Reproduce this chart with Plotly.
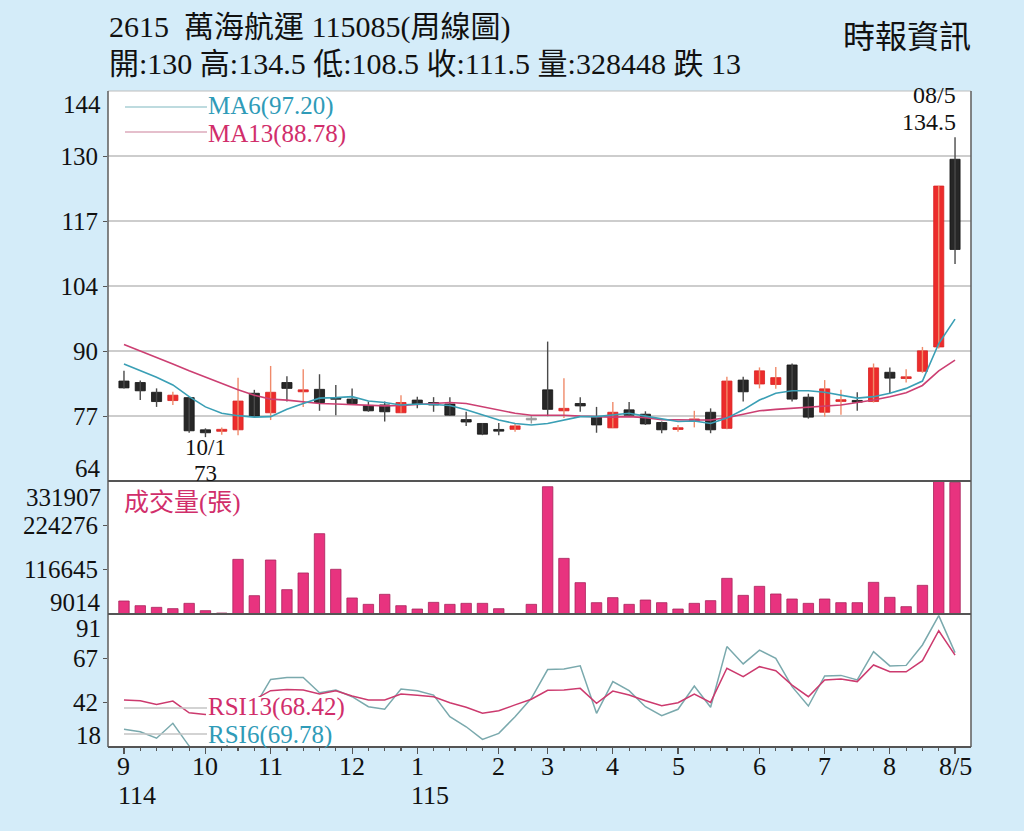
import plotly.graph_objects as go

# ---------------- data ----------------
weeks = list(range(52))
opens = [84.5, 84.2, 82.2, 80.5, 81.1, 74.5, 74.2, 74.5, 82.0, 78.0,
         84.2, 82.3, 82.8, 81.0, 80.8, 79.5, 79.6, 78.0, 80.6, 80.1,
         79.8, 76.6, 75.8, 74.5, 74.6, 76.7, 82.7, 78.4, 79.9, 77.1,
         74.9, 78.6, 77.7, 76.0, 74.6, 76.5, 78.1, 74.8, 84.7, 83.9,
         83.8, 87.8, 81.2, 78.1, 80.4, 80.4, 80.3, 86.3, 85.1, 86.5,
         91.5, 130.0]
highs = [86.6, 84.6, 83.0, 82.3, 81.2, 74.8, 75.0, 85.2, 82.7, 87.6,
         85.5, 86.9, 85.9, 83.7, 83.0, 80.3, 80.3, 81.6, 81.3, 81.2,
         81.2, 78.2, 75.9, 75.9, 75.8, 77.5, 92.6, 85.1, 81.2, 79.2,
         80.2, 80.2, 78.3, 76.2, 75.5, 78.4, 78.9, 85.4, 85.4, 87.3,
         87.4, 88.1, 81.9, 84.7, 82.7, 82.2, 88.1, 87.3, 86.9, 91.5,
         124.5, 134.5]
lows = [83.0, 80.6, 79.2, 79.6, 73.9, 73.0, 73.5, 73.4, 77.2, 76.5,
        80.3, 79.2, 78.4, 77.5, 79.9, 78.2, 76.2, 78.0, 78.9, 78.2,
        77.4, 75.3, 73.4, 73.4, 74.1, 75.8, 77.3, 76.9, 78.2, 73.9,
        74.9, 77.3, 75.5, 73.8, 74.1, 75.0, 73.8, 74.6, 80.3, 83.0,
        82.9, 80.3, 76.8, 77.2, 77.6, 78.4, 80.1, 82.0, 84.2, 86.2,
        91.2, 108.5]
closes = [83.1, 82.5, 80.3, 81.6, 74.3, 73.9, 74.6, 80.4, 77.3, 82.2,
          83.0, 82.7, 80.1, 80.9, 79.9, 78.4, 78.2, 80.1, 79.8, 79.6,
          77.5, 76.1, 73.6, 74.3, 75.3, 76.7, 78.7, 78.9, 79.4, 75.5,
          78.1, 77.5, 75.7, 74.5, 74.9, 76.6, 74.5, 84.5, 82.3, 86.6,
          85.2, 80.8, 77.1, 82.9, 80.6, 80.3, 87.2, 85.1, 85.3, 90.7,
          124.5, 111.5]
ma6 = [88.0, 86.6, 85.3, 83.7, 81.3, 79.2, 77.9, 77.4, 77.1, 77.2,
       78.7, 79.9, 81.0, 81.1, 81.3, 80.4, 80.1, 79.6, 79.8, 79.7,
       79.5, 78.6, 77.5, 76.5, 75.8, 75.5, 75.8, 76.5, 77.2, 77.2,
       77.5, 77.9, 77.3, 76.8, 76.2, 76.3, 75.8, 76.9, 78.6, 80.6,
       82.0, 82.5, 82.5, 82.2, 81.6, 81.0, 81.3, 82.0, 83.0, 84.5,
       92.2, 97.20]
ma13 = [92.0, 90.7, 89.4, 88.0, 86.6, 85.3, 84.0, 82.7, 81.6, 80.8,
        80.6, 80.3, 79.9, 79.8, 79.7, 79.5, 79.4, 79.5, 79.7, 79.9,
        80.1, 79.9, 79.2, 78.6, 77.9, 77.5, 77.5, 77.5, 77.3, 77.2,
        77.1, 77.2, 77.0, 76.6, 76.5, 76.5, 76.5, 77.0, 77.7, 78.4,
        78.7, 78.9, 79.2, 79.4, 79.6, 80.1, 80.6, 81.3, 82.1, 83.6,
        86.6, 88.78]
volume = [40600, 29200, 25200, 22000, 34900, 17100, 11400, 141700, 53500, 140100,
          68100, 108600, 204000, 117500, 47900, 32500, 56800, 29200, 21100, 37300,
          32500, 34900, 34900, 21900, 8000, 32500, 318100, 144100, 85100, 36500,
          48700, 32500, 43000, 36500, 21100, 34900, 41400, 95600, 54300, 76200,
          57600, 45400, 34900, 45400, 36500, 36500, 85900, 49500, 26800, 78600,
          452000, 328448]
rsi6 = [27.7, 26.4, 22.8, 31.0, 18.5, 10.0, 12.0, 33.0, 40.0, 55.1,
        56.2, 56.2, 47.8, 49.3, 45.6, 40.1, 38.7, 49.8, 48.9, 46.5,
        34.6, 29.1, 22.2, 25.5, 34.6, 44.7, 60.5, 60.8, 62.6, 36.5,
        53.9, 48.9, 40.1, 35.2, 38.7, 51.5, 39.8, 73.1, 63.6, 71.2,
        66.7, 51.1, 40.5, 57.0, 57.3, 54.8, 70.3, 62.5, 62.8, 74.0,
        90.1, 69.78]
rsi13 = [43.8, 43.4, 41.4, 43.2, 36.8, 35.9, 36.5, 42.0, 44.0, 48.9,
         49.6, 49.3, 47.1, 48.9, 46.0, 43.8, 43.8, 47.1, 46.4, 45.6,
         42.3, 39.8, 36.5, 37.9, 41.1, 44.2, 49.1, 49.3, 50.2, 42.0,
         48.7, 46.5, 43.4, 40.7, 42.3, 47.1, 42.5, 61.2, 56.6, 62.1,
         59.9, 52.0, 45.6, 54.8, 55.3, 53.9, 63.0, 59.3, 59.3, 65.4,
         81.8, 68.42]

month_tick_idx = [0, 5, 9, 14, 18, 23, 26, 30, 34, 39, 43, 47, 51]
month_tick_text = ["9", "10", "11", "12", "1", "2", "3", "4", "5", "6", "7", "8", "8/5"]
year_idx = [0, 18]
year_text = ["114", "115"]

price_ticks = [64, 77.333, 90.667, 104, 117.333, 130.667, 144]
price_tick_text = ["64", "77", "90", "104", "117", "130", "144"]
vol_ticks = [9014, 116645, 224276, 331907]
vol_tick_text = ["9014", "116645", "224276", "331907"]
rsi_ticks = [18, 42.333, 66.667, 91]
rsi_tick_text = ["18", "42", "67", "91"]

low_date = "10/1"
last_date = "08/5"

# ---------------- styling ----------------
BG = "#d4ecf9"
SERIF = "Liberation Serif, Noto Sans CJK TC, serif"
RED = "#ec2c2c"
RED_WICK = "#f08a6a"
BLK = "#272727"
BLK_WICK = "#4a4a4a"
FLAT = "#9a9a9a"
PINK = "#e8337f"
TEAL_TXT = "#2f9bb8"
MAG_TXT = "#d12e6b"

W, H = 1024, 831
ML, MR, MT, MB = 108, 53, 91, 84
PW, PH = W - ML - MR, H - MT - MB


def px(x):
    return (x - ML) / PW


def py(y):
    return (H - MB - y) / PH


d_rsi = [0, 133 / PH]
d_vol = [133 / PH, 266 / PH]
d_price = [266 / PH, 1]

fig = go.Figure()

# ---- candles: wicks + bodies ----
body_base, body_h, body_col, line_col = [], [], [], []
wick = {"up": ([], []), "down": ([], []), "flat": ([], [])}
for i, o, h, l, c in zip(weeks, opens, highs, lows, closes):
    kind = "up" if c > o else ("down" if c < o else "flat")
    wx, wy = wick[kind]
    wx += [i, i, None]
    wy += [l, h, None]
    hgt = abs(c - o)
    mn = 0.35
    base = min(o, c)
    if hgt < mn:
        base -= (mn - hgt) / 2
        hgt = mn
    body_base.append(base)
    body_h.append(hgt)
    body_col.append({"up": RED, "down": BLK, "flat": FLAT}[kind])
    line_col.append({"up": "#d82222", "down": "#111111", "flat": FLAT}[kind])

for kind, col in (("up", RED_WICK), ("down", BLK_WICK), ("flat", FLAT)):
    fig.add_trace(go.Scatter(x=wick[kind][0], y=wick[kind][1], mode="lines",
                             line=dict(color=col, width=1.4), yaxis="y",
                             hoverinfo="skip"))

fig.add_trace(go.Bar(x=weeks, y=body_h, base=body_base, width=0.62, yaxis="y",
                     marker=dict(color=body_col, line=dict(color=line_col, width=0.8))))

# ---- moving averages ----
fig.add_trace(go.Scatter(x=weeks, y=ma13, mode="lines", yaxis="y",
                         line=dict(color="#cc3f72", width=1.6)))
fig.add_trace(go.Scatter(x=weeks, y=ma6, mode="lines", yaxis="y",
                         line=dict(color="#3a9fb5", width=1.6)))

# ---- volume ----
fig.add_trace(go.Bar(x=weeks, y=volume, width=0.64, yaxis="y2",
                     marker=dict(color=PINK, line=dict(color="#a8235c", width=0.8))))

# ---- RSI ----
fig.add_trace(go.Scatter(x=weeks, y=rsi6, mode="lines", yaxis="y3",
                         line=dict(color="#7aa9ad", width=1.5)))
fig.add_trace(go.Scatter(x=weeks, y=rsi13, mode="lines", yaxis="y3",
                         line=dict(color="#cc3a6e", width=1.5)))

tickfont = dict(family=SERIF, size=25, color="#111")
yax_common = dict(tickmode="array", ticks="outside", ticklen=4, tickcolor="#555",
                  showline=False, zeroline=False, tickfont=tickfont, fixedrange=True)

fig.update_layout(
    width=W, height=H,
    margin=dict(l=ML, r=MR, t=MT, b=MB, pad=0),
    paper_bgcolor=BG, plot_bgcolor="white",
    showlegend=False, barmode="overlay",
    xaxis=dict(domain=[0, 1], anchor="y3", range=[-0.98, 51.98],
               tickmode="array", tickvals=month_tick_idx, ticktext=month_tick_text,
               showticklabels=False,
               ticks="outside", ticklen=6, tickcolor="#555", tickwidth=1.2,
               minor=dict(tickmode="linear", tick0=0, dtick=1, ticks="outside",
                          ticklen=3, tickcolor="#555", showgrid=False),
               showgrid=False, zeroline=False, showline=False, fixedrange=True),
    yaxis=dict(domain=d_price, range=[64, 144], tickvals=price_ticks[1:-1],
               ticktext=price_tick_text[1:-1], showgrid=True,
               gridcolor="#cdcdcd", gridwidth=1.5, **yax_common),
    yaxis2=dict(domain=d_vol, range=[vol_ticks[0], vol_ticks[-1]],
                tickvals=vol_ticks[1:-1], ticktext=vol_tick_text[1:-1],
                showgrid=False, **yax_common),
    yaxis3=dict(domain=d_rsi, range=[rsi_ticks[0], rsi_ticks[-1]],
                tickvals=rsi_ticks[1:-1], ticktext=rsi_tick_text[1:-1],
                showgrid=False, **yax_common),
)

# ---- shapes: legend samples, RSI legend background, borders ----
shapes = [
    dict(type="line", xref="paper", yref="paper", x0=px(125), x1=px(207),
         y0=py(107), y1=py(107), line=dict(color="#a9cfd4", width=1.3)),
    dict(type="line", xref="paper", yref="paper", x0=px(125), x1=px(207),
         y0=py(132), y1=py(132), line=dict(color="#dcaabb", width=1.3)),
    dict(type="rect", xref="paper", yref="paper", x0=px(206), x1=px(350),
         y0=py(745), y1=py(697), line=dict(width=0), fillcolor="white", layer="above"),
    dict(type="line", xref="paper", yref="paper", x0=px(124), x1=px(207),
         y0=py(708), y1=py(708), line=dict(color="#c4c4c4", width=1.5), layer="above"),
    dict(type="line", xref="paper", yref="paper", x0=px(124), x1=px(207),
         y0=py(734), y1=py(734), line=dict(color="#c4c4c4", width=1.5), layer="above"),
    # borders
    dict(type="line", xref="paper", yref="paper", x0=0, x1=1, y0=1, y1=1,
         line=dict(color="#bdbdbd", width=1.2), layer="above"),
    dict(type="line", xref="paper", yref="paper", x0=0, x1=0, y0=0, y1=1,
         line=dict(color="#666", width=1.6), layer="above"),
    dict(type="line", xref="paper", yref="paper", x0=1, x1=1, y0=0, y1=1,
         line=dict(color="#666", width=1.6), layer="above"),
    dict(type="line", xref="paper", yref="paper", x0=0, x1=1, y0=d_price[0], y1=d_price[0],
         line=dict(color="#555", width=2), layer="above"),
    dict(type="line", xref="paper", yref="paper", x0=0, x1=1, y0=d_vol[0], y1=d_vol[0],
         line=dict(color="#555", width=2), layer="above"),
    dict(type="line", xref="paper", yref="paper", x0=0, x1=1, y0=0, y1=0,
         line=dict(color="#555", width=2), layer="above"),
]
fig.update_layout(shapes=shapes)

# ---- annotations ----
ann = []


def text(t, x, y, size, color="#111", xanchor="left", yanchor="middle",
         xref="paper", yref="paper", xshift=0, yshift=0, height=None):
    a = dict(text=t, x=x, y=y, xref=xref, yref=yref, showarrow=False,
             xanchor=xanchor, yanchor=yanchor, xshift=xshift, yshift=yshift,
             borderpad=0, font=dict(family=SERIF, size=size, color=color))
    if height is not None:
        a["height"] = height
    ann.append(a)


title1 = "2615  萬海航運 115085(周線圖)"
chg = closes[-2] - closes[-1]
title2 = (f"開:{opens[-1]:g} 高:{highs[-1]:g} 低:{lows[-1]:g} 收:{closes[-1]:g} "
          f"量:{volume[-1]} {'跌' if chg > 0 else '漲'} {abs(chg):g}")
text(title1, px(108), py(27), 30)
text(title2, px(108), py(64), 30)
text("時報資訊", px(972), py(37), 32, xanchor="right")

text(f"MA6({ma6[-1]:.2f})", px(207), py(106), 25, TEAL_TXT)
text(f"MA13({ma13[-1]:.2f})", px(207), py(134), 25, MAG_TXT)
text("成交量(張)", px(123), py(503), 25, MAG_TXT)
text(f"RSI13({rsi13[-1]:.2f})", px(207), py(707), 25, MAG_TXT)
text(f"RSI6({rsi6[-1]:.2f})", px(207), py(735), 25, TEAL_TXT)

# extreme y tick labels, drawn inside their panels (as in the reference)
for val, lab, yr, shift in ((price_ticks[-1], price_tick_text[-1], "y", -13),
                            (price_ticks[0], price_tick_text[0], "y", 13),
                            (vol_ticks[-1], vol_tick_text[-1], "y2", -16),
                            (vol_ticks[0], vol_tick_text[0], "y2", 12),
                            (rsi_ticks[-1], rsi_tick_text[-1], "y3", -14),
                            (rsi_ticks[0], rsi_tick_text[0], "y3", 12)):
    text(lab, 0, val, 25, xanchor="right", yref=yr, xshift=-6, yshift=shift)

# month labels under the ticks, and year labels under them
for idx, lab in zip(month_tick_idx, month_tick_text):
    text(lab, idx, py(766), 26, xanchor="center", xref="x")
for idx, lab in zip(year_idx, year_text):
    text(lab, idx, py(795), 26, xanchor="left", xref="x", xshift=-7)

# lowest low and last high labels
lo_i = lows.index(min(lows))
text(low_date, lo_i, lows[lo_i], 23, xanchor="center", yanchor="top", xref="x", yref="y",
     yshift=3)
text(f"{lows[lo_i]:g}", lo_i, lows[lo_i], 23, xanchor="center", yanchor="top", xref="x", yref="y",
     yshift=-23)
hi_i = len(highs) - 1
text(f"{highs[hi_i]:g}", hi_i, highs[hi_i], 24, xanchor="right", yanchor="bottom", xref="x", yref="y",
     xshift=2, yshift=1)
text(last_date, hi_i, highs[hi_i], 24, xanchor="right", yanchor="bottom", xref="x", yref="y",
     xshift=2, yshift=28)

fig.update_layout(annotations=ann)

fig.write_html(
    "out.html",
    config={"displayModeBar": False, "staticPlot": True},
    post_script=("document.body.style.margin='0';"
                 "document.body.style.background='" + BG + "';"),
)
